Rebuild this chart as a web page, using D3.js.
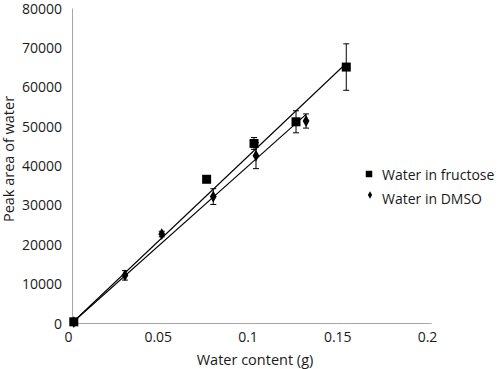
<!DOCTYPE html>
<html><head><meta charset="utf-8">
<script src="https://cdn.jsdelivr.net/npm/d3@7"></script>
<style>body{margin:0;background:#fff}svg{display:block}text{font-family:"Open Sans",sans-serif;fill:#1a1a1a}</style>
</head><body><svg id="c" width="500" height="369"></svg>
<script>
const xTicks = [0, 0.05, 0.1, 0.15, 0.2];
const yTicks = [0, 10000, 20000, 30000, 40000, 50000, 60000, 70000, 80000];
const fructoseX = [0.001, 0.075, 0.1014, 0.1248, 0.1528];
const fructoseY = [300, 36500, 45600, 51100, 65000];
const fructoseErr = [0, 600, 1500, 2800, 5900];
const dmsoX = [0.001, 0.0295, 0.05, 0.0787, 0.1025, 0.1304];
const dmsoY = [200, 12100, 22600, 32100, 42500, 51300];
const dmsoErr = [0, 1200, 700, 2000, 3300, 1800];
const seriesNames = ["Water in fructose", "Water in DMSO"];
const FS = 14;

const svg = d3.select("#c");
const x = d3.scaleLinear().domain([0, 0.2]).range([72, 431]);
const y = d3.scaleLinear().domain([0, 80000]).range([323, 8]);

const xAxis = svg.append("g").attr("transform", `translate(0,${y(0)})`)
  .call(d3.axisBottom(x).tickValues(xTicks).tickSize(0).tickPadding(9).tickFormat(d => d3.format("~g")(d)));
xAxis.select(".domain").attr("stroke", "#a6a6a6");
xAxis.selectAll("text").attr("font-size", FS).attr("fill", "#1a1a1a").attr("dx", -4);
const yAxis = svg.append("g").attr("transform", `translate(${x(0)},0)`)
  .call(d3.axisLeft(y).tickValues(yTicks).tickSize(0).tickPadding(10).tickFormat(d3.format("d")));
yAxis.select(".domain").attr("stroke", "#a6a6a6");
yAxis.selectAll("text").attr("font-size", FS).attr("fill", "#1a1a1a").attr("dy", "0.36em");

svg.append("text").attr("x", 255).attr("y", 365).attr("text-anchor", "middle").attr("font-size", 14.5).text("Water content (g)");
svg.append("text").attr("transform", "translate(14,159) rotate(-90)").attr("text-anchor", "middle").attr("font-size", 14.5).text("Peak area of water");

function zip(xs, ys, es){ return xs.map((v,i)=>({x:v,y:ys[i],e:es[i]})); }
const fr = zip(fructoseX, fructoseY, fructoseErr);
const dm = zip(dmsoX, dmsoY, dmsoErr);

function slope(pts){ let sxy=0,sxx=0; pts.forEach(p=>{sxy+=p.x*p.y;sxx+=p.x*p.x;}); return sxy/sxx; }
[fr, dm].forEach(pts=>{
  const s = slope(pts); const mx = d3.max(pts, p=>p.x);
  svg.append("line").attr("x1", x(0)).attr("y1", y(0)).attr("x2", x(mx)).attr("y2", y(s*mx))
    .attr("stroke", "#000").attr("stroke-width", 1.1);
});

function errbars(pts){
  const g = svg.append("g").attr("stroke", "#000").attr("stroke-width", 1);
  pts.filter(p=>p.e>0).forEach(p=>{
    g.append("line").attr("x1", x(p.x)).attr("x2", x(p.x)).attr("y1", y(p.y+p.e)).attr("y2", y(p.y-p.e));
    [p.y+p.e, p.y-p.e].forEach(v=> g.append("line").attr("x1", x(p.x)-3).attr("x2", x(p.x)+3).attr("y1", y(v)).attr("y2", y(v)));
  });
}
errbars(fr); errbars(dm);

const sq = d3.symbol().type(d3.symbolSquare).size(81);
const di = d3.symbol().type(d3.symbolDiamond).size(40);
svg.append("g").selectAll("path").data(dm).join("path").attr("d", di)
  .attr("transform", p=>`translate(${x(p.x)},${y(p.y)})`).attr("fill", "#000");
svg.append("g").selectAll("path").data(fr).join("path").attr("d", sq)
  .attr("transform", p=>`translate(${x(p.x)},${y(p.y)})`).attr("fill", "#000");

const lg = svg.append("g");
lg.append("path").attr("d", d3.symbol().type(d3.symbolSquare).size(42)).attr("transform", "translate(369,174)").attr("fill", "#000");
lg.append("path").attr("d", d3.symbol().type(d3.symbolDiamond).size(16)).attr("transform", "translate(370,195)").attr("fill", "#000");
lg.append("text").attr("x", 382).attr("y", 180).attr("font-size", FS).text(seriesNames[0]);
lg.append("text").attr("x", 382).attr("y", 204).attr("font-size", FS).text(seriesNames[1]);
</script></body></html>
